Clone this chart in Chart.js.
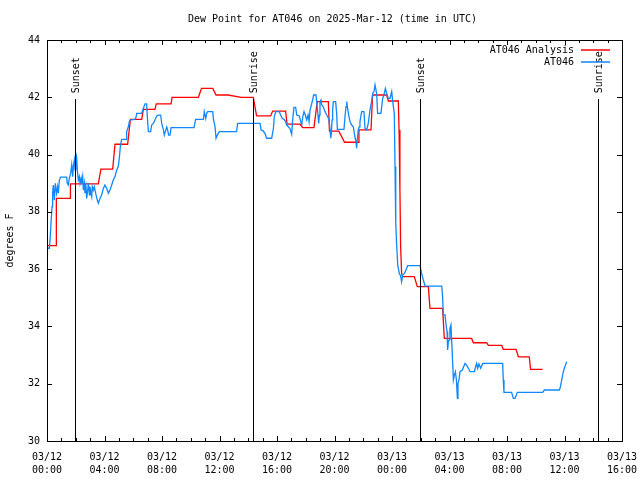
<!DOCTYPE html>
<html>
<head>
<meta charset="utf-8">
<title>Dew Point for AT046</title>
<script src="https://cdn.jsdelivr.net/npm/chart.js@4"></script>
<style>
  html, body { margin: 0; padding: 0; background: #fff; }
</style>
</head>
<body>
<canvas id="dewChart" width="640" height="480"></canvas>
<script>
// ========= Data (hours since 03/12 00:00 UTC, degrees F) =========
const titleText = "Dew Point for AT046 on 2025-Mar-12 (time in UTC)";
const yAxisLabel = "degrees F";

const analysisHours = [
  0, 0.63, 0.65, 1.6, 1.63, 3.57, 3.75, 4.57, 4.73, 5.61, 5.8, 6.59, 6.7, 7.51, 7.6, 8.63, 8.7,
  10.53, 10.75, 11.53, 11.76, 12.6, 13.5, 14.35, 14.58, 15.56, 15.7, 16.6, 16.7, 17.6, 17.8,
  18.57, 18.8, 19.57, 19.65, 20.3, 20.7, 21.66, 21.7, 22.54, 22.65, 23.63, 23.75, 24.44, 24.49,
  24.55, 24.6, 24.67, 24.74, 25.55, 25.76, 26.53, 26.64, 27.52, 27.64, 29.54, 29.66, 30.59,
  30.7, 31.63, 31.74, 32.63, 32.79, 33.55, 33.64, 34.48
];
const analysisValues = [
  36.82, 36.82, 38.47, 38.47, 38.98, 38.98, 39.49, 39.49, 40.36, 40.36, 41.23, 41.23, 41.58, 41.58, 41.77, 41.77, 42.0,
  42.0, 42.31, 42.31, 42.08, 42.08, 42.0, 42.0, 41.35, 41.35, 41.52, 41.52, 41.06, 41.06, 40.94,
  40.94, 41.85, 41.85, 40.82, 40.82, 40.43, 40.43, 40.86, 40.86, 42.08, 42.08, 41.87, 41.87, 40.86,
  38.82, 36.78, 35.85, 35.74, 35.74, 35.39, 35.39, 34.63, 34.63, 33.58, 33.58, 33.43, 33.43,
  33.34, 33.34, 33.2, 33.2, 32.94, 32.94, 32.5, 32.5
];

const obsHours = [
  0, 0.16, 0.21, 0.28, 0.35, 0.39, 0.44, 0.51, 0.58, 0.67, 0.74, 0.79, 0.86, 0.95, 1.37, 1.41,
  1.48, 1.55, 1.65, 1.72, 1.79, 1.83, 1.9, 1.95, 2.0, 2.06, 2.11, 2.18, 2.25, 2.3, 2.37, 2.41,
  2.48, 2.53, 2.6, 2.64, 2.71, 2.76, 2.83, 2.88, 2.95, 2.99, 3.06, 3.11, 3.15, 3.22, 3.29, 3.34,
  3.41, 3.5, 3.57, 3.69, 3.8, 3.92, 4.03, 4.15, 4.27, 4.38, 4.5, 4.61, 4.73, 4.85, 4.96, 5.03,
  5.1, 5.19, 5.5, 5.54, 5.66, 5.73, 5.82, 6.12, 6.19, 6.24, 6.59, 6.7, 6.82, 6.93, 6.98, 7.05,
  7.21, 7.28, 7.4, 7.51, 7.63, 7.75, 7.91, 7.98, 8.1, 8.16, 8.23, 8.33, 8.39, 8.46, 8.56, 8.63,
  10.23, 10.34, 10.88, 10.94, 11.04, 11.11, 11.18, 11.53, 11.57, 11.69, 11.76, 11.85, 11.99,
  13.19, 13.26, 14.82, 14.89, 15.05, 15.16, 15.28, 15.63, 15.75, 15.81, 15.91, 16.16, 16.25,
  16.37, 16.49, 16.6, 16.67, 16.79, 16.9, 17.02, 17.09, 17.18, 17.3, 17.37, 17.55, 17.65, 17.72,
  17.79, 17.88, 17.97, 18.06, 18.16, 18.23, 18.3, 18.39, 18.48, 18.55, 18.71, 18.76, 18.83,
  18.9, 18.95, 18.99, 19.06, 19.11, 19.22, 19.34, 19.46, 19.53, 19.62, 19.69, 19.74, 19.78,
  19.83, 19.87, 19.92, 20.08, 20.15, 20.2, 20.66, 20.73, 20.8, 20.85, 20.91, 21.01, 21.08,
  21.19, 21.31, 21.42, 21.49, 21.54, 21.58, 21.65, 21.72, 21.77, 21.89, 22.05, 22.12, 22.24,
  22.35, 22.47, 22.58, 22.66, 22.75, 22.82, 22.93, 23.0, 23.23, 23.35, 23.44, 23.54, 23.63,
  23.74, 23.86, 23.98, 24.05, 24.16, 24.21, 24.26, 24.33, 24.4, 24.51, 24.6, 24.67, 24.74,
  24.86, 24.97, 25.09, 25.95, 26.06, 26.18, 26.3, 27.46, 27.52, 27.57, 27.69, 27.76, 27.83,
  27.87, 27.92, 27.99, 28.03, 28.1, 28.15, 28.22, 28.27, 28.34, 28.41, 28.48, 28.55, 28.59,
  28.66, 28.73, 28.89, 29.08, 29.19, 29.31, 29.43, 29.73, 29.82, 29.89, 29.96, 30.05, 30.17,
  30.31, 31.7, 31.74, 31.79, 32.32, 32.44, 32.56, 32.72, 34.48, 34.6, 35.64, 35.69, 35.76,
  35.85, 35.92, 35.99, 36.08, 36.15
];
const obsValues = [
  36.73, 36.73, 37.02, 37.6, 38.18, 38.65, 38.94, 38.41, 39.0, 38.65, 38.88, 38.65, 39.11, 39.21, 39.21, 39.0,
  38.94, 39.17, 39.35, 39.64, 39.23, 39.58, 39.81, 39.46, 40.04, 39.93, 39.46, 39.11, 39.23, 39.0, 39.17, 39.0,
  39.23, 38.76, 39.0, 38.65, 38.88, 38.47, 38.76, 39.0, 38.59, 38.88, 38.65, 38.53, 38.88, 38.76, 38.88, 38.76,
  38.59, 38.41, 38.3, 38.47, 38.59, 38.82, 38.94, 38.82, 38.65, 38.76, 38.94, 39.11, 39.23, 39.46, 39.58, 39.87,
  40.27, 40.53, 40.53, 40.8, 40.97, 41.15, 41.21, 41.23, 41.3, 41.44, 41.44, 41.61, 41.77, 41.77, 41.32, 40.8,
  40.8, 41.03, 41.09, 41.21, 41.35, 41.38, 41.38, 41.09, 40.86, 40.68, 40.8, 40.96, 40.86, 40.68, 40.68, 40.94,
  40.94, 41.23, 41.23, 41.5, 41.26, 41.44, 41.5, 41.5, 41.26, 40.97, 40.57, 40.68, 40.8,
  40.8, 41.09, 41.09, 40.86, 40.82, 40.74, 40.57, 40.57, 40.91, 41.32, 41.5, 41.5, 41.38,
  41.26, 41.23, 41.15, 41.03, 40.97, 40.91, 40.71, 41.21, 41.65, 41.65, 41.38, 41.35, 41.15, 41.03,
  41.32, 41.5, 41.38, 41.21, 41.38, 41.15, 41.56, 41.73, 41.91, 42.08, 42.08, 41.85, 41.5,
  41.09, 41.38, 41.85, 41.91, 41.73, 41.67, 41.5, 41.38, 41.32, 41.21, 40.86, 40.57, 40.74,
  41.21, 41.56, 41.85, 41.85, 41.44, 40.88, 40.88, 41.32, 41.67, 41.85, 41.61, 41.32, 41.15,
  41.03, 40.97, 40.62, 40.45, 40.22, 40.51, 40.86, 40.97, 41.15, 41.5, 41.5, 40.92, 40.86,
  41.09, 41.56, 41.85, 42.14, 42.2, 42.43, 42.14, 41.44, 41.44, 41.96, 42.08, 42.31, 42.14,
  41.96, 41.96, 42.2, 41.85, 41.44, 39.58, 37.6, 36.78, 36.14, 35.85, 35.76, 35.56, 35.79,
  35.85, 35.97, 36.12, 36.12, 35.85, 35.62, 35.41, 35.41, 35.04, 34.4, 34.4, 34.05, 33.82,
  33.18, 33.47, 33.53, 33.93, 34.05, 33.53, 32.71, 32.13, 32.31, 32.42, 32.13, 31.49, 32.01,
  32.13, 32.42, 32.48, 32.71, 32.65, 32.54, 32.42, 32.42, 32.6, 32.71, 32.54, 32.69, 32.54,
  32.71, 32.71, 32.13, 31.7, 31.7, 31.49, 31.49, 31.7, 31.7, 31.78, 31.78, 31.84, 32.01,
  32.25, 32.42, 32.54, 32.66, 32.77
];

const eventHours = [1.95, 14.33, 25.97, 38.3];
const eventLabels = ["Sunset", "Sunrise", "Sunset", "Sunrise"];
const eventLineTop = 41.94;
const eventLabelBase = 42.14;

const xMin = 0, xMax = 40, xStep = 4;
const yMin = 30, yMax = 44, yStep = 2;

// ========= Styles =========
const RED = "#ff0000";
const BLUE = "#0f87ff";
const FONT_FAMILY = "'DejaVu Sans Mono', monospace";
const FONT = "10px " + FONT_FAMILY;

function hourLabel(h) {
  const day = 12 + Math.floor(h / 24);
  const hh = h % 24;
  return ["03/" + day, String(hh).padStart(2, "0") + ":00"];
}

function toPoints(xs, ys) {
  return xs.map((x, i) => ({ x: x, y: ys[i] }));
}

// ========= Decorations (frame, inward ticks, sun events, legend, titles) =========
const decorPlugin = {
  id: "decor",
  afterDatasetsDraw(chart) {
    const { ctx, chartArea: a, scales: { x, y } } = chart;
    ctx.save();
    ctx.strokeStyle = "#000";
    ctx.fillStyle = "#000";
    ctx.lineWidth = 1;

    // frame
    ctx.strokeRect(a.left + 0.5, a.top + 0.5, a.right - a.left, a.bottom - a.top);

    // x ticks (major every 4h, minor every hour), drawn inward top and bottom
    ctx.beginPath();
    for (let h = xMin; h <= xMax; h++) {
      const px = Math.round(x.getPixelForValue(h)) + 0.5;
      const len = h % xStep === 0 ? 5 : 3;
      ctx.moveTo(px, a.bottom);
      ctx.lineTo(px, a.bottom - len);
      ctx.moveTo(px, a.top);
      ctx.lineTo(px, a.top + len);
    }
    for (let v = yMin; v <= yMax; v += yStep) {
      const py = Math.round(y.getPixelForValue(v)) + 0.5;
      ctx.moveTo(a.left, py);
      ctx.lineTo(a.left + 5, py);
      ctx.moveTo(a.right, py);
      ctx.lineTo(a.right - 5, py);
    }
    ctx.stroke();

    // sunrise / sunset markers
    ctx.font = FONT;
    eventHours.forEach((h, i) => {
      const px = Math.round(x.getPixelForValue(h)) + 0.5;
      ctx.beginPath();
      ctx.moveTo(px, a.bottom);
      ctx.lineTo(px, y.getPixelForValue(eventLineTop));
      ctx.stroke();
      ctx.save();
      ctx.translate(px + 1, y.getPixelForValue(eventLabelBase));
      ctx.rotate(-Math.PI / 2);
      ctx.textAlign = "left";
      ctx.textBaseline = "middle";
      ctx.fillText(eventLabels[i], 0, 0);
      ctx.restore();
    });

    // legend, top right inside the plot
    const legendColors = [RED, BLUE];
    chart.data.datasets.forEach((ds, i) => {
      const ly = a.top + 10 + i * 12;
      ctx.fillStyle = "#000";
      ctx.textAlign = "right";
      ctx.textBaseline = "middle";
      ctx.fillText(ds.label, a.right - 48, ly);
      ctx.strokeStyle = legendColors[i];
      ctx.lineWidth = 1.5;
      ctx.beginPath();
      ctx.moveTo(a.right - 41, ly);
      ctx.lineTo(a.right - 12, ly);
      ctx.stroke();
    });

    // title and y-axis label
    ctx.fillStyle = "#000";
    ctx.textAlign = "center";
    ctx.textBaseline = "middle";
    ctx.fillText(titleText, (a.left + a.right) / 2 - 2, 19);
    ctx.save();
    ctx.translate(10, (a.top + a.bottom) / 2);
    ctx.rotate(-Math.PI / 2);
    ctx.fillText(yAxisLabel, 0, 0);
    ctx.restore();

    ctx.restore();
  }
};

// ========= Chart =========
const ctx = document.getElementById("dewChart").getContext("2d");

new Chart(ctx, {
  type: "line",
  data: {
    datasets: [
      {
        label: "AT046 Analysis",
        data: toPoints(analysisHours, analysisValues),
        borderColor: RED,
        borderWidth: 1.3,
        pointRadius: 0,
        fill: false,
        tension: 0,
        order: 2
      },
      {
        label: "AT046",
        data: toPoints(obsHours, obsValues),
        borderColor: BLUE,
        borderWidth: 1.3,
        pointRadius: 0,
        fill: false,
        tension: 0,
        order: 1
      }
    ]
  },
  options: {
    responsive: false,
    animation: false,
    layout: { padding: { top: 40, right: 18, left: 0, bottom: 0 } },
    plugins: {
      legend: { display: false },
      title: { display: false },
      tooltip: { enabled: false }
    },
    scales: {
      x: {
        type: "linear",
        min: xMin,
        max: xMax,
        afterFit(scale) {
          scale.height = 39;
          scale.paddingLeft = 0;
          scale.paddingRight = 0;
        },
        grid: { display: false, drawTicks: false },
        border: { display: false },
        ticks: {
          stepSize: xStep,
          autoSkip: false,
          maxRotation: 0,
          padding: 10,
          color: "#000",
          font: { family: FONT_FAMILY, size: 10, lineHeight: 1.3 },
          callback: v => hourLabel(v)
        }
      },
      y: {
        type: "linear",
        min: yMin,
        max: yMax,
        afterFit(scale) {
          scale.width = 47;
          scale.paddingTop = 0;
          scale.paddingBottom = 0;
        },
        grid: { display: false, drawTicks: false },
        border: { display: false },
        ticks: {
          stepSize: yStep,
          padding: 7,
          color: "#000",
          font: { family: FONT_FAMILY, size: 10 }
        }
      }
    }
  },
  plugins: [decorPlugin]
});
</script>
</body>
</html>
